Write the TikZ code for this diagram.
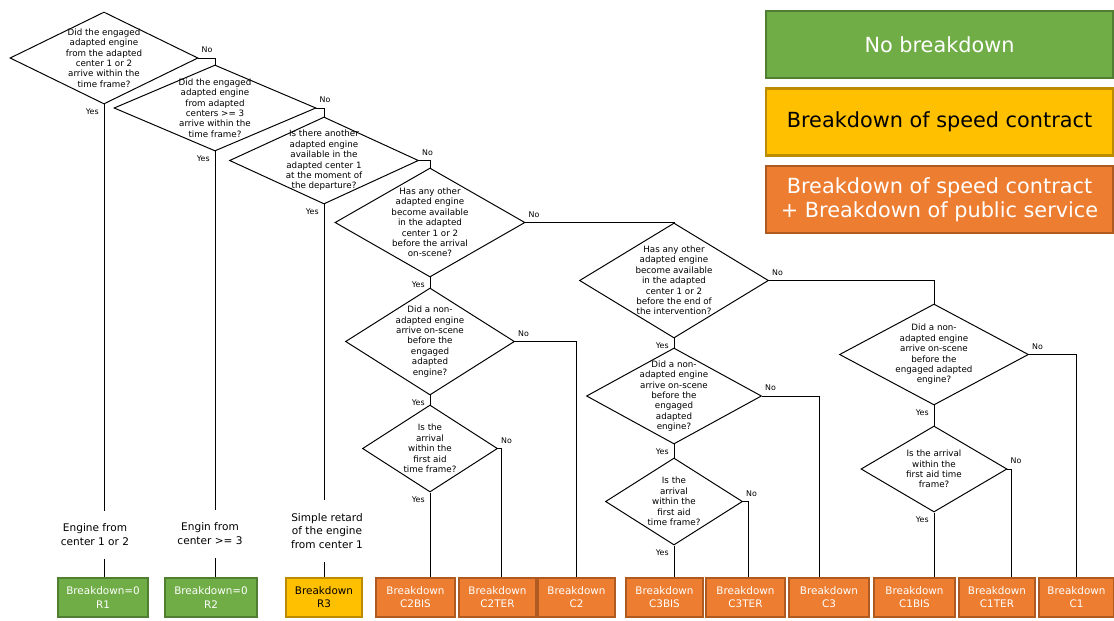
\documentclass[tikz,border=0pt]{standalone}
\usepackage{fontspec}
\setmainfont{DejaVu Sans}
\usepackage{tikz}
\usetikzlibrary{shapes.geometric,positioning}
\definecolor{okgreen}{HTML}{70AD47}
\definecolor{okgreenline}{HTML}{507E32}
\definecolor{speedyellow}{HTML}{FFC000}
\definecolor{speedyellowline}{HTML}{BC8C00}
\definecolor{serviceorange}{HTML}{ED7D31}
\definecolor{serviceorangeline}{HTML}{AE5A21}

\begin{document}
\begin{tikzpicture}[
  x=0.025cm, y=-0.025cm,
  decision/.style 2 args={draw, diamond, inner sep=0pt, line width=0.7pt,
    minimum width=#1*0.025cm, minimum height=#2*0.025cm},
  question/.style={font=\fontsize{6.2}{7.4}\selectfont, align=center, inner sep=0pt},
  leaf/.style={draw, line width=1.5pt, minimum width=78*0.025cm, minimum height=39*0.025cm,
    align=center, inner sep=1pt, font=\fontsize{7.4}{9.4}\selectfont},
  greenleaf/.style={leaf, fill=okgreen, draw=okgreenline, text=white},
  yellowleaf/.style={leaf, fill=speedyellow, draw=speedyellowline, text=black},
  orangeleaf/.style={leaf, fill=serviceorange, draw=serviceorangeline, text=white},
  outcome/.style={align=center, font=\fontsize{7.5}{9.9}\selectfont, inner xsep=1pt, inner ysep=9pt},
  legend/.style={draw, line width=1.5pt, minimum width=347*0.025cm, minimum height=67*0.025cm,
    align=center, font=\fontsize{14.8}{16.8}\selectfont},
  yn/.style={font=\fontsize{5.6}{6.5}\selectfont, inner sep=1pt},
  no/.style={yn, anchor=south west, xshift=1pt, yshift=2.5pt},
  yes/.style={yn, anchor=north east, xshift=-2.5pt, yshift=-1.5pt},
  flow/.style={line width=0.6pt}
]
\useasboundingbox (0,0) rectangle (1114,620);

% legend
\node[legend, fill=okgreen, draw=okgreenline, text=white] (keyok) at (939.5,44.5) {No breakdown};
\node[legend, fill=speedyellow, draw=speedyellowline] (keyspeed) at (939.5,122) {Breakdown of speed contract};
\node[legend, fill=serviceorange, draw=serviceorangeline, text=white] (keyservice) at (939.5,199.5) {Breakdown of speed contract\\+ Breakdown of public service};

% questions
\node[decision={188}{92}, label={[question]center:{Did the engaged\\adapted engine\\from the adapted\\center 1 or 2\\arrive within the\\time frame?}}] (d1) at (104,58) {};
\node[decision={202}{86}, label={[question]center:{Did the engaged\\adapted engine\\from adapted\\centers >= 3\\arrive within the\\time frame?}}] (d2) at (215,108) {};
\node[decision={189}{87}, label={[question]center:{Is there another\\adapted engine\\available in the\\adapted center 1\\at the moment of\\the departure?}}] (d3) at (324,160.5) {};
\node[decision={190}{109}, label={[question]center:{Has any other\\adapted engine\\become available\\in the adapted\\center 1 or 2\\before the arrival\\on-scene?}}] (d4) at (430,222.5) {};
\node[decision={169}{107}, label={[question]center:{Did a non-\\adapted engine\\arrive on-scene\\before the\\engaged\\adapted\\engine?}}] (d5) at (430,341.5) {};
\node[decision={135}{87}, label={[question]center:{Is the\\arrival\\within the\\first aid\\time frame?}}] (d6) at (430,448.5) {};
\node[decision={189}{115}, label={[question]center:{Has any other\\adapted engine\\become available\\in the adapted\\center 1 or 2\\before the end of\\the intervention?}}] (d7) at (674,280.5) {};
\node[decision={175}{96}, label={[question]center:{Did a non-\\adapted engine\\arrive on-scene\\before the\\engaged\\adapted\\engine?}}] (d8) at (674,396) {};
\node[decision={137}{87}, label={[question]center:{Is the\\arrival\\within the\\first aid\\time frame?}}] (d9) at (674,501.5) {};
\node[decision={189}{101}, label={[question]center:{Did a non-\\adapted engine\\arrive on-scene\\before the\\engaged adapted\\engine?}}] (d10) at (934,354.5) {};
\node[decision={146}{86}, label={[question]center:{Is the arrival\\within the\\first aid time\\frame?}}] (d11) at (934,469) {};

% outcomes
\node[outcome] (t1) at (95,535) {Engine from\\center 1 or 2};
\node[outcome] (t2) at (210,534) {Engin from\\center >= 3};
\node[outcome] (t3) at (327,531) {Simple retard\\of the engine\\from center 1};

\node[greenleaf, minimum width=90*0.025cm] (r1) at (103,597.5) {Breakdown=0\\R1};
\node[greenleaf, minimum width=92*0.025cm] (r2) at (211,597.5) {Breakdown=0\\R2};
\node[yellowleaf, minimum width=76*0.025cm] (r3) at (324,597.5) {Breakdown\\R3};
\node[orangeleaf, minimum width=79*0.025cm] (c2bis) at (415.5,597.5) {Breakdown\\C2BIS};
\node[orangeleaf, minimum width=77*0.025cm] (c2ter) at (497.5,597.5) {Breakdown\\C2TER};
\node[orangeleaf, minimum width=77*0.025cm] (c2) at (576.5,597.5) {Breakdown\\C2};
\node[orangeleaf, minimum width=77*0.025cm] (c3bis) at (664.5,597.5) {Breakdown\\C3BIS};
\node[orangeleaf, minimum width=79*0.025cm] (c3ter) at (745.5,597.5) {Breakdown\\C3TER};
\node[orangeleaf, minimum width=80*0.025cm] (c3) at (829,597.5) {Breakdown\\C3};
\node[orangeleaf, minimum width=81*0.025cm] (c1bis) at (914.5,597.5) {Breakdown\\C1BIS};
\node[orangeleaf, minimum width=76*0.025cm] (c1ter) at (997,597.5) {Breakdown\\C1TER};
\node[orangeleaf, minimum width=75*0.025cm] (c1) at (1076.5,597.5) {Breakdown\\C1};

% no branches
\draw[flow] (d1.east) node[no] {No} -| (d2.north);
\draw[flow] (d2.east) node[no] {No} -| (d3.north);
\draw[flow] (d3.east) node[no] {No} -| (d4.north);
\draw[flow] (d4.east) node[no] {No} -| (d7.north);
\draw[flow] (d5.east) node[no] {No} -| (c2.north);
\draw[flow] (d6.east) node[no] {No} -| ([xshift=3.5*0.025cm]c2ter.north);
\draw[flow] (d7.east) node[no] {No} -| (d10.north);
\draw[flow] (d8.east) node[no] {No} -| ([xshift=-10*0.025cm]c3.north);
\draw[flow] (d9.east) node[no] {No} -| ([xshift=2.5*0.025cm]c3ter.north);
\draw[flow] (d10.east) node[no] {No} -| (c1.north);
\draw[flow] (d11.east) node[no] {No} -| ([xshift=14*0.025cm]c1ter.north);

% yes branches
\draw[flow] (d1.south) node[yes] {Yes} -- (d1.south |- t1.north);
\draw[flow] (d1.south |- t1.south) -- (d1.south |- r1.north);
\draw[flow] (d2.south) node[yes] {Yes} -- (d2.south |- t2.north);
\draw[flow] (d2.south |- t2.south) -- (d2.south |- r2.north);
\draw[flow] (d3.south) node[yes] {Yes} -- (d3.south |- t3.north);
\draw[flow] (d3.south |- t3.south) -- (d3.south |- r3.north);
\draw[flow] (d4.south) node[yes] {Yes} -- (d5.north);
\draw[flow] (d5.south) node[yes] {Yes} -- (d6.north);
\draw[flow] (d6.south) node[yes] {Yes} -- (d6.south |- c2bis.north);
\draw[flow] (d7.south) node[yes] {Yes} -- (d8.north);
\draw[flow] (d8.south) node[yes] {Yes} -- (d9.north);
\draw[flow] (d9.south) node[yes] {Yes} -- (d9.south |- c3bis.north);
\draw[flow] (d10.south) node[yes] {Yes} -- (d11.north);
\draw[flow] (d11.south) node[yes] {Yes} -- (d11.south |- c1bis.north);
\end{tikzpicture}
\end{document}
